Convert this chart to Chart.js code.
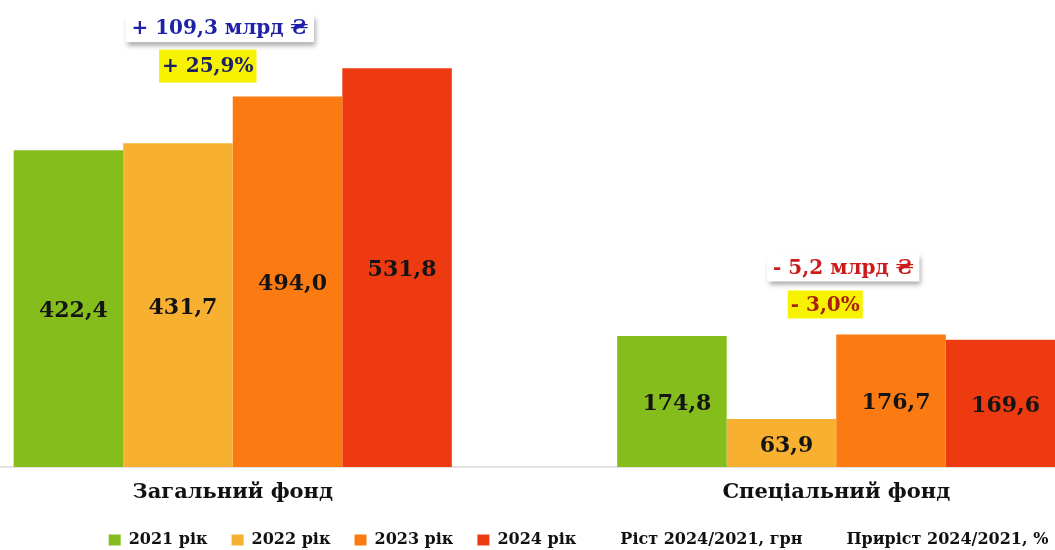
<!DOCTYPE html>
<html lang="uk">
<head>
<meta charset="utf-8">
<script src="https://cdn.jsdelivr.net/npm/chart.js@4.4.1/dist/chart.umd.min.js"></script>
<style>
  html, body { margin: 0; padding: 0; background: #fff; overflow: hidden; width: 1055px; height: 550px; }
  #wrap { position: absolute; left: -69px; top: 0; width: 1207px; height: 558px; }
</style>
</head>
<body>
<div id="wrap"><canvas id="fundChart"></canvas></div>
<script>
const categories = ["Загальний фонд", "Спеціальний фонд"];
const years = ["2021 рік", "2022 рік", "2023 рік", "2024 рік"];
const values2021 = [422.4, 174.8];
const values2022 = [431.7, 63.9];
const values2023 = [494.0, 176.7];
const values2024 = [531.8, 169.6];
const growthNames = ["Ріст 2024/2021, грн", "Приріст 2024/2021, %"];
const growthAbs = ["+ 109,3 млрд ₴", "- 5,2 млрд ₴"];
const growthPct = ["+ 25,9%", "- 3,0%"];

const colors = ["#84bd1c", "#f8b030", "#fb7b12", "#ee3a10"];
const FONT = "'DejaVu Serif', 'Liberation Serif', serif";

const fmt = (v) => v.toFixed(1).replace(".", ",");

// numbers inside the bars
const barValues = {
  id: "barValues",
  afterDatasetsDraw(chart) {
    const { ctx } = chart;
    ctx.save();
    ctx.font = "bold 22px " + FONT;
    ctx.fillStyle = "#141414";
    ctx.textAlign = "center";
    ctx.textBaseline = "middle";
    chart.data.datasets.forEach((ds, i) => {
      if (ds.type === "line") return;
      chart.getDatasetMeta(i).data.forEach((bar, j) => {
        const { x, y, base } = bar.getProps(["x", "y", "base"], true);
        ctx.fillText(fmt(ds.data[j]), x + 5, (y + base) / 2 + 3);
      });
    });
    ctx.restore();
  },
};

// growth callouts above each group
const callouts = {
  id: "callouts",
  afterDatasetsDraw(chart) {
    const { ctx, scales } = chart;
    const absColor = ["#1f22a8", "#cc1a1a"];
    const pctColor = ["#1c2262", "#a8200c"];
    const absPos = [[-13, -40], [7, -67]];
    const pctPos = [[-25, -2], [-11, -30]];
    categories.forEach((c, i) => {
      const cx = scales.x.getPixelForValue(i);
      const top = scales.y.getPixelForValue(Math.max(values2021[i], values2022[i], values2023[i], values2024[i]));
      ctx.save();
      ctx.font = "bold 20px " + FONT;
      ctx.textAlign = "center";
      ctx.textBaseline = "middle";

      // white box with shadow
      let x = cx + absPos[i][0], y = top + absPos[i][1];
      let w = ctx.measureText(growthAbs[i]).width + 12, h = 28;
      ctx.save();
      ctx.shadowColor = "rgba(0,0,0,0.35)";
      ctx.shadowBlur = 5;
      ctx.shadowOffsetX = 2;
      ctx.shadowOffsetY = 4;
      ctx.fillStyle = "#fff";
      ctx.fillRect(x - w / 2, y - h / 2, w, h);
      ctx.restore();
      ctx.fillStyle = absColor[i];
      ctx.fillText(growthAbs[i], x, y + 1);

      // yellow percent box
      x = cx + pctPos[i][0];
      y = top + pctPos[i][1];
      w = ctx.measureText(growthPct[i]).width + 6;
      h = i === 0 ? 33 : 28;
      ctx.fillStyle = "#f6f200";
      ctx.fillRect(x - w / 2, y - h / 2, w, h);
      ctx.fillStyle = pctColor[i];
      ctx.fillText(growthPct[i], x, y + 1);
      ctx.restore();
    });
  },
};

// legend is centred on the visible window rather than the wider canvas
const legendShift = {
  id: "legendShift",
  afterLayout(chart) {
    chart.legend.left += 44;
    chart.legend.right += 44;
  },
};

const yearSeries = [values2021, values2022, values2023, values2024];

new Chart(document.getElementById("fundChart"), {
  type: "bar",
  data: {
    labels: categories,
    datasets: [
      ...yearSeries.map((vals, i) => ({
        label: years[i],
        data: vals,
        backgroundColor: colors[i],
        borderWidth: 0,
        categoryPercentage: 0.726,
        barPercentage: 1.0,
      })),
      ...growthNames.map((name) => ({
        type: "line",
        label: name,
        data: [],
        backgroundColor: "rgba(0,0,0,0)",
        borderColor: "rgba(0,0,0,0)",
      })),
    ],
  },
  options: {
    responsive: true,
    maintainAspectRatio: false,
    animation: false,
    layout: { padding: { top: 2, left: 0, right: 0, bottom: 0 } },
    scales: {
      x: {
        grid: { display: false, drawTicks: false },
        border: { color: "#e2e2e2", width: 2 },
        ticks: {
          color: "#111",
          padding: 13,
          font: { family: FONT, size: 21, weight: "bold" },
        },
        afterFit(scale) {
          scale.height = 41;
        },
      },
      y: {
        display: false,
        min: 0,
        max: 620,
      },
    },
    plugins: {
      legend: {
        position: "bottom",
        labels: {
          boxWidth: 12,
          boxHeight: 11,
          padding: 24,
          color: "#111",
          font: { family: FONT, size: 16, weight: "bold" },
        },
      },
      tooltip: { enabled: false },
    },
  },
  plugins: [barValues, callouts, legendShift],
});
</script>
</body>
</html>
